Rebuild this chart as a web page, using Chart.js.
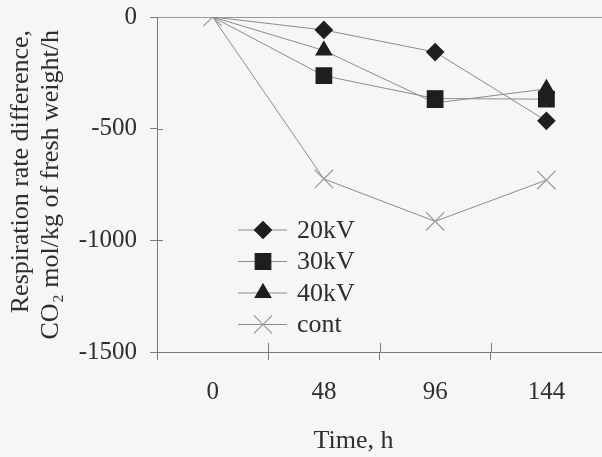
<!DOCTYPE html>
<html>
<head>
<meta charset="utf-8">
<script src="https://cdn.jsdelivr.net/npm/chart.js@4.4.1/dist/chart.umd.min.js"></script>
<style>
  html, body { margin: 0; padding: 0; background: #f6f6f4; }
  #wrap { width: 602px; height: 457px; }
</style>
</head>
<body>
<div id="wrap"><canvas id="chart" width="602" height="457"></canvas></div>
<script>
// values
const hours = ['0', '48', '96', '144'];
const kv20 = [0, -58, -157, -465];
const kv30 = [0, -263, -365, -368];
const kv40 = [0, -150, -385, -322];
const cont = [0, -725, -915, -730];
const yTicks = [0, -500, -1000, -1500];

const serif = '"Liberation Serif", "Times New Roman", serif';
const ink = '#2e2e2e';
const lineGray = '#8c8c8c';

// hide the marker at t=0 for the treated series (only the X shows there)
const skipFirst = r => c => (c.dataIndex === 0 ? 0 : r);

function series(label, data, style, r, color) {
    return {
        label: label,
        data: data,
        borderColor: lineGray,
        borderWidth: 1,
        pointStyle: style,
        pointRadius: style === 'crossRot' ? r : skipFirst(r),
        pointHoverRadius: style === 'crossRot' ? r : skipFirst(r),
        legendRadius: r,
        pointBackgroundColor: color,
        pointBorderColor: color,
        pointBorderWidth: 1.2,
        tension: 0
    };
}

// legend drawn inside the plot, line + marker + label like the original
const legendBox = {
    id: 'legendBox',
    afterDraw(chart) {
        const { ctx, chartArea } = chart;
        const x0 = chartArea.left + 81;
        const y0 = chartArea.top + 213;
        const rowH = 31.5;
        chart.data.datasets.forEach((ds, i) => {
            const y = y0 + i * rowH;
            ctx.save();
            ctx.strokeStyle = ds.borderColor;
            ctx.lineWidth = 1;
            ctx.beginPath();
            ctx.moveTo(x0, y);
            ctx.lineTo(x0 + 49, y);
            ctx.stroke();
            ctx.fillStyle = ds.pointBackgroundColor;
            ctx.strokeStyle = ds.pointBorderColor;
            ctx.lineWidth = ds.pointBorderWidth;
            Chart.helpers.drawPoint(ctx, {
                pointStyle: ds.pointStyle,
                rotation: 0,
                radius: ds.legendRadius,
                borderWidth: ds.pointBorderWidth
            }, x0 + 25, y);
            ctx.fillStyle = ink;
            ctx.font = '26px ' + serif;
            ctx.textAlign = 'left';
            ctx.textBaseline = 'middle';
            ctx.fillText(ds.label, x0 + 59, y + 1);
            ctx.restore();
        });
    }
};

// the tick marks cross the axes, draw the inner half
const innerTicks = {
    id: 'innerTicks',
    beforeDatasetsDraw(chart) {
        const { ctx, chartArea } = chart;
        const xs = chart.scales.x, ys = chart.scales.y;
        ctx.save();
        ctx.strokeStyle = '#7a7a7a';
        ctx.lineWidth = 1;
        ctx.beginPath();
        for (let i = 1; i < hours.length; i++) {
            const px = Math.round((xs.getPixelForTick(i - 1) + xs.getPixelForTick(i)) / 2) + 0.5;
            ctx.moveTo(px, chartArea.bottom);
            ctx.lineTo(px, chartArea.bottom - 9);
        }
        yTicks.forEach(v => {
            if (v === 0 || v === -1500) return;
            const py = Math.round(ys.getPixelForValue(v)) + 0.5;
            ctx.moveTo(chartArea.left, py);
            ctx.lineTo(chartArea.left + 6, py);
        });
        ctx.stroke();
        ctx.restore();
    }
};

new Chart(document.getElementById('chart'), {
    type: 'line',
    data: {
        labels: hours,
        datasets: [
            series('20kV', kv20, 'rectRot', 8.5, '#1e1e1e'),
            series('30kV', kv30, 'rect', 11, '#1e1e1e'),
            series('40kV', kv40, 'triangle', 9, '#1e1e1e'),
            series('cont', cont, 'crossRot', 13, '#9a9a9a')
        ]
    },
    options: {
        responsive: false,
        animation: false,
        layout: { autoPadding: false, padding: { top: 17, right: 0, left: 0, bottom: 0 } },
        plugins: {
            legend: { display: false },
            tooltip: { enabled: false }
        },
        scales: {
            x: {
                offset: true,
                border: { color: '#7a7a7a', width: 1 },
                grid: {
                    offset: true,
                    drawOnChartArea: false,
                    tickLength: 8,
                    color: '#7a7a7a'
                },
                ticks: {
                    color: ink,
                    padding: 17,
                    font: { family: serif, size: 25 }
                },
                title: {
                    display: true,
                    text: 'Time, h        ',
                    color: ink,
                    font: { family: serif, size: 26 },
                    padding: { top: 0, bottom: 0 }
                },
                afterFit: s => {
                    s.height = 105;
                    s.paddingLeft = 0;
                    s.paddingRight = 0;
                }
            },
            y: {
                min: -1500,
                max: 0,
                afterBuildTicks: s => { s.ticks = yTicks.map(v => ({ value: v })); },
                border: { color: '#7a7a7a', width: 1 },
                grid: {
                    tickLength: 7,
                    color: c => (c.tick && c.tick.value === 0 ? '#9a9a9a' : 'rgba(0,0,0,0)'),
                    tickColor: '#7a7a7a'
                },
                ticks: {
                    color: ink,
                    padding: 13,
                    font: { family: serif, size: 25 },
                    callback: v => String(v)
                },
                title: {
                    display: true,
                    align: 'end',
                    text: ['Respiration rate difference,  ', 'CO\u2082 mol/kg of fresh weight/h  '],
                    color: ink,
                    font: { family: serif, size: 26, lineHeight: 1.15 },
                    padding: { top: 6, bottom: 0 }
                },
                afterFit: s => {
                    s.width = 157;
                    s.paddingTop = 0;
                    s.paddingBottom = 0;
                }
            }
        }
    },
    plugins: [innerTicks, legendBox]
});
</script>
</body>
</html>
